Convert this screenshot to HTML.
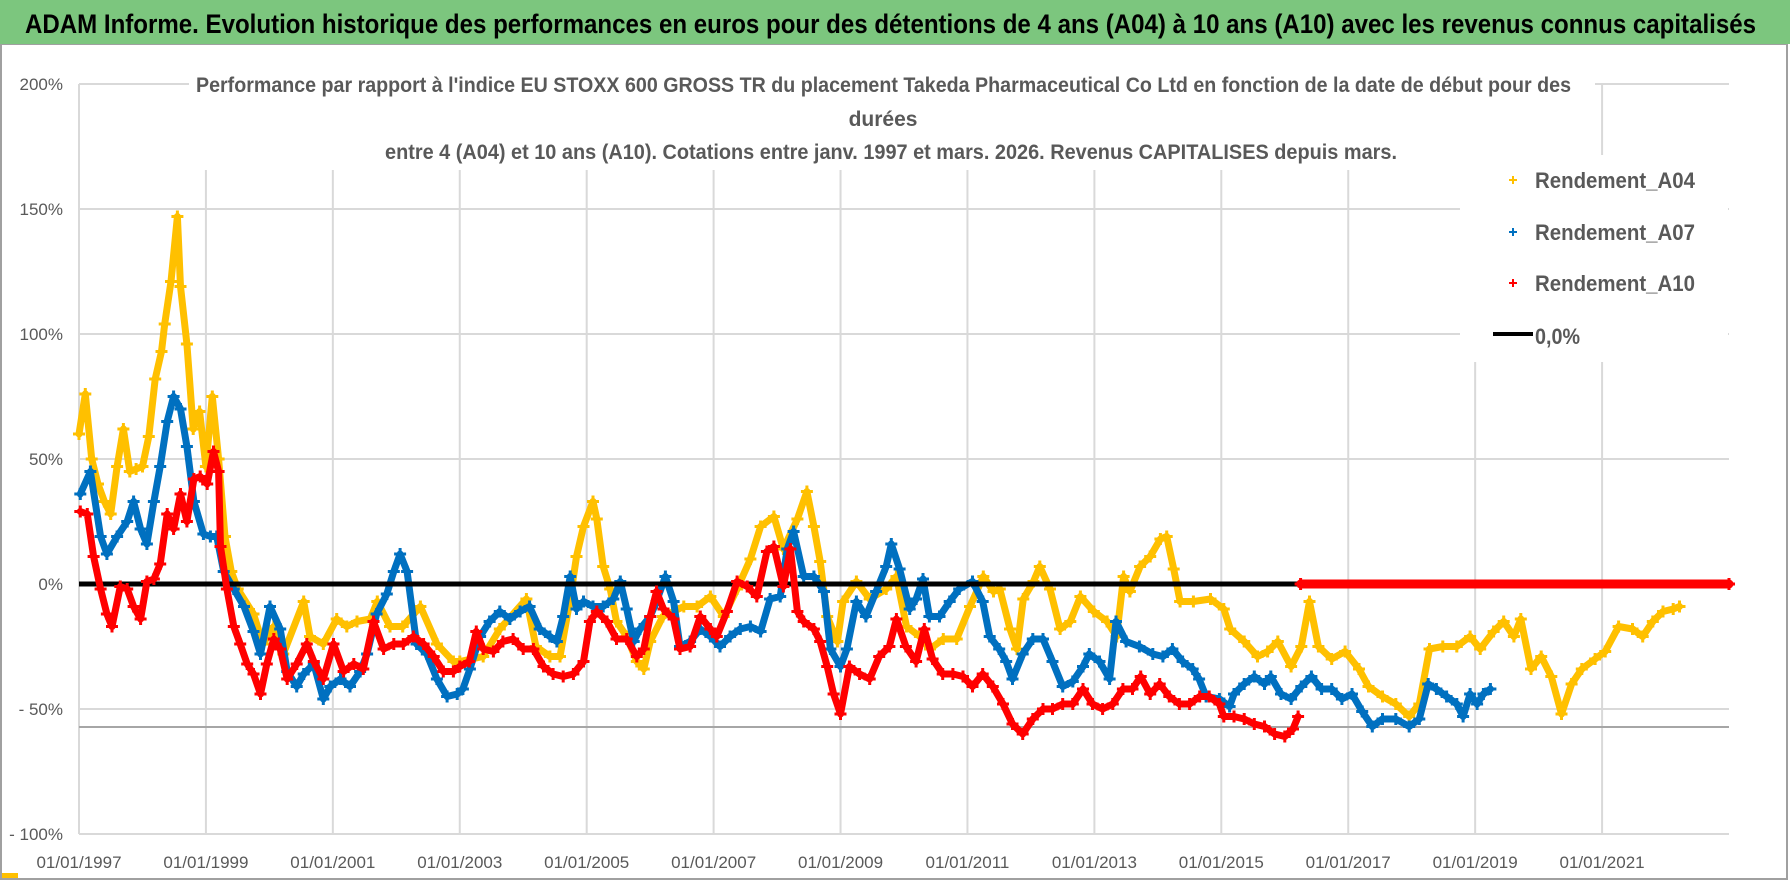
<!DOCTYPE html>
<html><head><meta charset="utf-8"><style>
html,body{margin:0;padding:0;background:#fff;}
svg{display:block;font-family:"Liberation Sans",sans-serif;}
</style></head><body>
<svg id="chart" width="1790" height="886" viewBox="0 0 1790 886" xmlns="http://www.w3.org/2000/svg">
<rect x="0" y="0" width="1790" height="886" fill="#fff"/>
<rect x="1" y="44" width="1786" height="835" fill="none" stroke="#a0a0a0" stroke-width="2"/>
<rect x="0" y="0" width="1790" height="44" fill="#7cc67e"/>
<rect x="2" y="873" width="16" height="5" fill="#ffc000"/>
<text x="25" y="33" font-size="27" font-weight="bold" fill="#000" textLength="1731" lengthAdjust="spacingAndGlyphs">ADAM Informe. Evolution historique des performances en euros pour des détentions de 4 ans (A04) à 10 ans (A10) avec les revenus connus capitalisés</text>
<g id="grid"></g>
<g id="axes"></g>
<rect x="189" y="68" width="1406" height="102" fill="#fff"/>
<text x="196" y="92" font-size="21" font-weight="bold" fill="#595959" textLength="1375" lengthAdjust="spacingAndGlyphs">Performance par rapport à l'indice EU STOXX 600 GROSS TR  du placement Takeda Pharmaceutical Co Ltd en fonction de la date de début pour des</text>
<text x="883" y="126" font-size="21" font-weight="bold" fill="#595959" text-anchor="middle">durées</text>
<text x="385" y="159" font-size="21" font-weight="bold" fill="#595959" textLength="1012" lengthAdjust="spacingAndGlyphs">entre 4 (A04) et 10 ans (A10).  Cotations entre janv. 1997 et mars. 2026.  Revenus CAPITALISES depuis mars.</text>
<g id="series"></g>
<rect x="1460" y="155" width="268" height="207" fill="#fff"/>
<g>
<g><path d="M1509 180h8M1513 176v8" stroke="#ffc000" stroke-width="2"/><text x="1535" y="188" font-size="22" font-weight="bold" fill="#595959" textLength="160" lengthAdjust="spacingAndGlyphs">Rendement_A04</text></g>
<g><path d="M1509 232h8M1513 228v8" stroke="#0070c0" stroke-width="2"/><text x="1535" y="240" font-size="22" font-weight="bold" fill="#595959" textLength="160" lengthAdjust="spacingAndGlyphs">Rendement_A07</text></g>
<g><path d="M1509 283h8M1513 279v8" stroke="#ff0000" stroke-width="2"/><text x="1535" y="291" font-size="22" font-weight="bold" fill="#595959" textLength="160" lengthAdjust="spacingAndGlyphs">Rendement_A10</text></g>
<g><line x1="1493" y1="334" x2="1533" y2="334" stroke="#000" stroke-width="4"/><text x="1535" y="344" font-size="22" font-weight="bold" fill="#595959" textLength="45" lengthAdjust="spacingAndGlyphs">0,0%</text></g>
</g>
</svg>
<script>
const yTicks = [200,150,100,50,0,-50,-100];
const yTickLabels = ["200%","150%","100%","50%","0%","- 50%","- 100%"];
const xTicks = [1997,1999,2001,2003,2005,2007,2009,2011,2013,2015,2017,2019,2021];
const xTickLabels = ["01/01/1997","01/01/1999","01/01/2001","01/01/2003","01/01/2005","01/01/2007","01/01/2009","01/01/2011","01/01/2013","01/01/2015","01/01/2017","01/01/2019","01/01/2021"];
const xDomain = [1997, 2023];
const yDomain = [-100, 200];
const minLineValue = -57.2;
const zeroValue = 0;

const a04Dates = [1997.0,1997.1,1997.2,1997.3,1997.4,1997.5,1997.6,1997.7,1997.8,1997.9,1998.0,1998.1,1998.2,1998.3,1998.35,1998.45,1998.55,1998.6,1998.7,1998.8,1998.9,1999.0,1999.1,1999.2,1999.3,1999.4,1999.5,1999.75,1999.9,2000.07,2000.22,2000.54,2000.64,2000.85,2001.06,2001.22,2001.38,2001.59,2001.7,2001.9,2002.1,2002.38,2002.64,2002.9,2003.0,2003.37,2003.63,2004.05,2004.2,2004.42,2004.58,2004.74,2004.84,2004.95,2005.1,2005.16,2005.26,2005.37,2005.47,2005.63,2005.79,2005.9,2006.0,2006.2,2006.53,2006.74,2006.95,2007.16,2007.37,2007.58,2007.74,2007.95,2008.1,2008.32,2008.47,2008.58,2008.68,2008.79,2008.95,2009.04,2009.25,2009.46,2009.72,2009.88,2010.04,2010.25,2010.41,2010.62,2010.83,2011.04,2011.25,2011.41,2011.51,2011.67,2011.78,2011.88,2012.04,2012.14,2012.3,2012.46,2012.62,2012.78,2012.99,2013.2,2013.35,2013.46,2013.56,2013.72,2013.88,2014.04,2014.14,2014.25,2014.35,2014.56,2014.83,2015.04,2015.14,2015.36,2015.57,2015.73,2015.89,2016.1,2016.26,2016.39,2016.53,2016.74,2016.95,2017.17,2017.32,2017.54,2017.75,2017.96,2018.12,2018.28,2018.49,2018.71,2018.92,2019.08,2019.29,2019.45,2019.61,2019.72,2019.88,2020.04,2020.2,2020.36,2020.52,2020.68,2020.89,2021.05,2021.26,2021.48,2021.64,2021.8,2021.96,2022.12,2022.22];
const a04Values = [60,76,50,40,33,28,47,62,45,46,47,59,82,93,104,121,147,119,96,62,69,47,75,50,19,5,-2,-12,-24,-17,-28,-7,-21,-24,-14,-17,-15,-14,-7,-17,-17,-9,-24,-31,-31,-29,-18,-6,-25,-29,-29,-6,11,23,33,26,7,-2,-15,-21,-31,-34,-23,-13,-9,-9,-5,-13,-2,10,23,27,14,26,37,23,9,-13,-23,-7,1,-6,-2,3,-17,-21,-26,-22,-22,-9,3,-3,-2,-18,-26,-6,1,7,-2,-18,-15,-5,-11,-15,-21,3,-3,7,11,18,19,6,-7,-7,-6,-10,-18,-23,-29,-27,-23,-33,-25,-7,-25,-30,-27,-34,-41,-45,-48,-53,-48,-26,-25,-25,-21,-26,-19,-15,-21,-14,-34,-29,-37,-52,-40,-34,-30,-27,-17,-18,-21,-15,-11,-10,-9];

const a07Dates = [1997.02,1997.18,1997.34,1997.44,1997.6,1997.76,1997.86,1997.97,1998.07,1998.18,1998.28,1998.39,1998.49,1998.6,1998.7,1998.81,1998.96,1999.07,1999.17,1999.28,1999.44,1999.6,1999.75,1999.86,2000.01,2000.17,2000.28,2000.43,2000.54,2000.7,2000.85,2000.96,2001.12,2001.27,2001.43,2001.54,2001.69,2001.85,2001.96,2002.06,2002.17,2002.32,2002.48,2002.64,2002.8,2002.96,2003.05,2003.16,2003.32,2003.47,2003.63,2003.79,2003.95,2004.1,2004.26,2004.42,2004.53,2004.63,2004.74,2004.84,2004.95,2005.1,2005.26,2005.42,2005.53,2005.63,2005.74,2005.84,2006.0,2006.1,2006.24,2006.37,2006.47,2006.63,2006.79,2006.95,2007.1,2007.26,2007.42,2007.58,2007.74,2007.89,2008.05,2008.16,2008.26,2008.42,2008.58,2008.74,2008.84,2009.0,2009.1,2009.25,2009.4,2009.56,2009.72,2009.8,2009.93,2010.09,2010.19,2010.3,2010.4,2010.56,2010.72,2010.87,2011.08,2011.24,2011.35,2011.5,2011.61,2011.71,2011.87,2012.03,2012.19,2012.34,2012.5,2012.66,2012.82,2012.92,2013.08,2013.24,2013.34,2013.5,2013.71,2013.92,2014.08,2014.23,2014.39,2014.55,2014.65,2014.76,2014.97,2015.13,2015.2,2015.36,2015.52,2015.68,2015.78,2015.94,2016.1,2016.26,2016.42,2016.58,2016.74,2016.9,2017.06,2017.22,2017.38,2017.54,2017.75,2017.96,2018.12,2018.26,2018.39,2018.55,2018.71,2018.81,2018.92,2019.03,2019.13,2019.24];
const a07Values = [36,45,19,12,19,25,33,22,16,33,47,65,75,70,55,33,20,19,19,5,-2,-9,-19,-28,-9,-18,-35,-41,-36,-32,-46,-41,-38,-41,-35,-28,-12,-4,5,12,5,-24,-28,-38,-45,-44,-42,-34,-21,-15,-11,-14,-11,-9,-18,-21,-23,-13,3,-10,-7,-9,-9,-6,1,-10,-23,-18,-13,-7,3,-7,-25,-23,-18,-21,-25,-21,-18,-17,-19,-6,-5,14,21,3,3,-3,-26,-33,-26,-7,-13,-3,7,16,6,-10,-6,2,-13,-13,-7,-2,1,-7,-21,-26,-31,-38,-28,-22,-22,-31,-41,-39,-33,-28,-31,-38,-15,-23,-25,-28,-29,-26,-31,-34,-38,-45,-46,-49,-44,-40,-37,-40,-37,-44,-46,-41,-37,-42,-42,-46,-44,-51,-57,-54,-54,-57,-54,-40,-42,-45,-48,-53,-44,-48,-44,-42];

const a10Dates = [1997.02,1997.13,1997.23,1997.34,1997.44,1997.52,1997.65,1997.76,1997.86,1997.97,1998.07,1998.18,1998.28,1998.39,1998.49,1998.6,1998.7,1998.81,1998.91,1999.02,1999.12,1999.2,1999.23,1999.33,1999.44,1999.54,1999.65,1999.75,1999.86,1999.96,2000.07,2000.17,2000.28,2000.43,2000.59,2000.7,2000.85,2001.01,2001.17,2001.33,2001.48,2001.64,2001.8,2001.96,2002.11,2002.27,2002.43,2002.59,2002.74,2002.9,2003.0,2003.15,2003.26,2003.37,2003.53,2003.68,2003.84,2004.0,2004.16,2004.32,2004.47,2004.63,2004.79,2004.95,2005.05,2005.16,2005.32,2005.47,2005.63,2005.79,2005.9,2006.0,2006.1,2006.21,2006.37,2006.47,2006.63,2006.79,2006.95,2007.05,2007.21,2007.37,2007.53,2007.68,2007.84,2007.95,2008.1,2008.21,2008.32,2008.42,2008.58,2008.68,2008.79,2008.89,2009.0,2009.14,2009.3,2009.46,2009.61,2009.77,2009.88,2010.03,2010.19,2010.32,2010.45,2010.61,2010.77,2010.93,2011.08,2011.24,2011.4,2011.56,2011.71,2011.87,2012.03,2012.19,2012.34,2012.5,2012.66,2012.82,2012.97,2013.13,2013.29,2013.45,2013.6,2013.73,2013.88,2014.03,2014.18,2014.34,2014.5,2014.66,2014.81,2014.97,2015.04,2015.2,2015.36,2015.52,2015.68,2015.84,2016.0,2016.13,2016.21];
const a10Values = [29,28,11,-2,-12,-17,-1,-2,-9,-14,1,2,8,28,22,36,25,42,43,40,53,45,15,-2,-17,-24,-32,-36,-44,-32,-22,-26,-38,-32,-24,-31,-38,-24,-35,-32,-34,-15,-26,-24,-24,-21,-24,-29,-35,-35,-33,-31,-19,-26,-27,-23,-22,-26,-26,-33,-36,-37,-36,-31,-15,-11,-15,-22,-22,-29,-26,-13,-3,-10,-14,-26,-25,-13,-18,-21,-11,1,-1,-5,13,15,-1,14,-11,-15,-18,-23,-33,-44,-52,-33,-36,-38,-29,-25,-14,-25,-31,-18,-30,-36,-36,-37,-41,-36,-41,-48,-56,-60,-54,-50,-50,-48,-48,-42,-48,-50,-48,-42,-42,-37,-44,-40,-45,-48,-48,-45,-45,-48,-53,-53,-54,-56,-57,-60,-61,-58,-53];
const a10ZeroDates = [2016.25, 2023.0];
const a10ZeroValues = [0, 0];

const NS = "http://www.w3.org/2000/svg";
const L = 79, R = 1729, T = 84, B = 834;
function xs(t){ return L + (t - xDomain[0]) / (xDomain[1] - xDomain[0]) * (R - L); }
function ys(v){ return B - (v - yDomain[0]) / (yDomain[1] - yDomain[0]) * (B - T); }
function mk(tag, attrs, parent){ const e = document.createElementNS(NS, tag); for (const k in attrs) e.setAttribute(k, attrs[k]); parent.appendChild(e); return e; }

const grid = document.getElementById('grid');
const axes = document.getElementById('axes');
yTicks.forEach((v, i) => {
  const ln = mk('line', {x1:L, x2:R, y1:ys(v), y2:ys(v), stroke:'#d9d9d9', 'stroke-width':2}, grid);
  
  
  const tx = mk('text', {x:63, y:ys(v)+6, 'font-size':17, fill:'#595959', 'text-anchor':'end'}, axes);
  tx.textContent = yTickLabels[i];
  
  
});
xTicks.forEach((t, i) => {
  const ln = mk('line', {x1:xs(t), x2:xs(t), y1:T, y2:B, stroke:'#d9d9d9', 'stroke-width':2}, grid);
  
  
  const tx = mk('text', {x:xs(t), y:868, 'font-size':17, fill:'#595959', 'text-anchor':'middle'}, axes);
  tx.textContent = xTickLabels[i];
  
  
});

const layer = document.getElementById('series');
const minLine = mk('line', {x1:L, x2:R, y1:ys(minLineValue), y2:ys(minLineValue), stroke:'#a6a6a6', 'stroke-width':2}, layer);



function drawSeries(dates, values, color, name, lw){
  const g = mk('g', {}, layer);
  
  
  const pts = dates.map((t, i) => xs(t).toFixed(1) + ',' + ys(values[i]).toFixed(1)).join(' ');
  mk('polyline', {points:pts, fill:'none', stroke:color, 'stroke-width':lw, 'stroke-linejoin':'round', 'stroke-linecap':'round'}, g);
  let d = '';
  dates.forEach((t, i) => { const x = xs(t), y = ys(values[i]); d += 'M' + (x-6).toFixed(1) + ' ' + y.toFixed(1) + 'h12M' + x.toFixed(1) + ' ' + (y-6).toFixed(1) + 'v12'; });
  const p = mk('path', {d:d, stroke:color, 'stroke-width':3, fill:'none'}, g);
  
  
}
drawSeries(a04Dates, a04Values, '#ffc000', 'series-a04', 7);
drawSeries(a07Dates, a07Values, '#0070c0', 'series-a07', 7);
const zl = mk('line', {x1:L, x2:R, y1:ys(zeroValue), y2:ys(zeroValue), stroke:'#000', 'stroke-width':5}, layer);


drawSeries(a10Dates, a10Values, '#ff0000', 'series-a10', 7);
drawSeries(a10ZeroDates, a10ZeroValues, '#ff0000', 'series-a10-zero', 9);
</script>
</body></html>
